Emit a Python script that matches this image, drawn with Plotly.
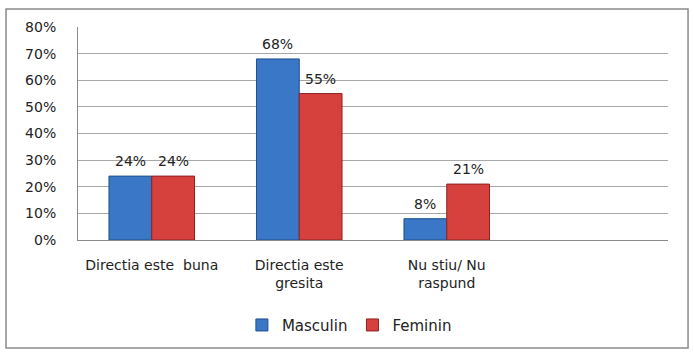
import plotly.graph_objects as go

categories = ["Directia este  buna", "Directia este<br>gresita", "Nu stiu/ Nu<br>raspund"]
masculin = [24, 68, 8]
feminin = [24, 55, 21]
series_names = ["Masculin", "Feminin"]
y_ticks = [0, 10, 20, 30, 40, 50, 60, 70, 80]
y_tick_labels = ["0%", "10%", "20%", "30%", "40%", "50%", "60%", "70%", "80%"]

FONT = "DejaVu Sans"
TXT = "#222222"

fig = go.Figure()
fig.add_trace(go.Bar(
    x=categories, y=masculin, name=series_names[0],
    marker=dict(color="#3a77c6", line=dict(color="#1f4f8f", width=1)),
))
fig.add_trace(go.Bar(
    x=categories, y=feminin, name=series_names[1],
    marker=dict(color="#d6403d", line=dict(color="#8f2020", width=1)),
))

# data labels, placed via data coordinates (offset to each bar of the group)
for vals, dx in ((masculin, -21.5), (feminin, 21.5)):
    for cat, v in zip(categories, vals):
        fig.add_annotation(x=cat, y=v, text=f"{v}%", showarrow=False,
                           xref="x", yref="y", xshift=dx, yshift=15,
                           font=dict(family=FONT, size=14, color=TXT))

fig.update_layout(
    width=694, height=354,
    margin=dict(l=78, r=26, t=27, b=114),
    paper_bgcolor="white", plot_bgcolor="white",
    barmode="group", bargap=0.42, bargroupgap=0,
    font=dict(family=FONT, size=14, color=TXT),
    showlegend=True,
    legend=dict(orientation="h", x=0.46, xanchor="center", y=-0.40, yanchor="middle",
                font=dict(family=FONT, size=15, color=TXT), traceorder="normal",
                itemwidth=30),
    xaxis=dict(
        type="category", range=[-0.5, 3.5], showline=True, linecolor="#8a8a8a",
        linewidth=1, ticks="", showgrid=False, ticklabelstandoff=12,
        tickfont=dict(family=FONT, size=14, color=TXT),
    ),
    yaxis=dict(
        range=[0, 80], tickmode="array", tickvals=y_ticks, ticktext=y_tick_labels,
        showline=True, linecolor="#8a8a8a", linewidth=1, showgrid=True,
        gridcolor="#a8a8a8", gridwidth=1, ticks="", ticklabelstandoff=18,
        zeroline=False, tickfont=dict(family=FONT, size=14, color=TXT),
    ),
)

# outer chart border
fig.add_shape(type="rect", xref="paper", yref="paper",
              x0=-0.122, x1=1.034, y0=-0.507, y1=1.0845,
              line=dict(color="#8a8a8a", width=1.5), fillcolor="rgba(0,0,0,0)")

fig.write_html("out.html")
